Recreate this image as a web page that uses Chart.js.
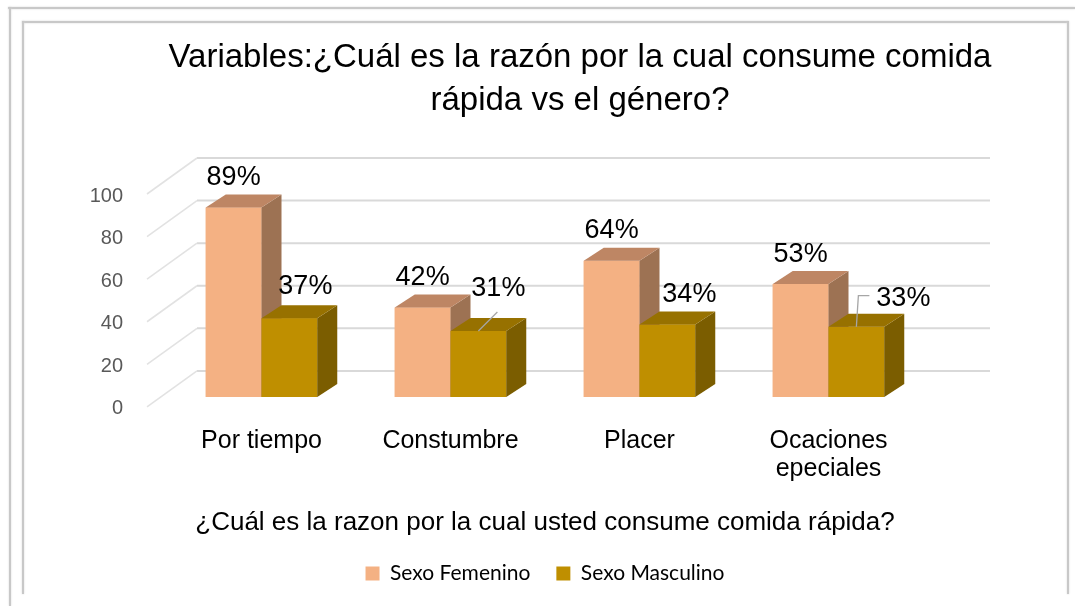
<!DOCTYPE html>
<html><head><meta charset="utf-8">
<script src="https://cdn.jsdelivr.net/npm/chart.js@4.4.0/dist/chart.umd.min.js"></script>
<style>
html,body{margin:0;padding:0;background:#fff;}
#wrap{position:relative;width:1075px;height:606px;overflow:hidden;background:#fff;}
.fr{position:absolute;background:#c8c8c8;box-shadow:0 0 2px #d6d6d6;}
canvas{position:absolute;left:0;top:0;}
</style></head><body>
<div id="wrap">
 <div class="fr" style="left:8px;top:7px;width:1067px;height:2px"></div>
 <div class="fr" style="left:9px;top:7px;width:2px;height:599px"></div>
 <div class="fr" style="left:22px;top:21px;width:1046px;height:2px"></div>
 <div class="fr" style="left:22px;top:21px;width:2px;height:573px"></div>
 <div class="fr" style="left:1067px;top:21px;width:2px;height:573px"></div>
 <canvas id="c" width="1075" height="606"></canvas>
</div>
<script>
const categories = ['Por tiempo', 'Constumbre', 'Placer', ['Ocaciones', 'epeciales']];
const femenino = [89, 42, 64, 53];
const masculino = [37, 31, 34, 33];
const yTicks = [0, 20, 40, 60, 80, 100];
const seriesNames = ['Sexo Femenino', 'Sexo Masculino'];
const titleLines = ['Variables:¿Cuál es la razón por la cual consume comida', 'rápida vs el género?'];
const xTitle = '¿Cuál es la razon por la cual usted consume comida rápida?';

const FONT = '"Liberation Sans", Arial, sans-serif';
const DX = 20, DY = -13;
const faceColors = [{top: '#BE8664', side: '#9D7253'}, {top: '#977100', side: '#7B5D00'}];
// label placement (style): [dx, dy] from bar top-center
const labelShift = [
  [[0, -30], [0, -30], [0, -30], [0, -30]],
  [[16, -32], [20, -42], [22, -30], [47, -28]]
];
const leaders = [
  [null, null, null, null],
  [null, [[0, 0], [19, -19]], null, [[0, 0], [2, -31], [13, -31]]]
];

const bar3d = {
  id: 'bar3d',
  beforeDatasetsDraw(chart) {
    const ctx = chart.ctx, ys = chart.scales.y, a = chart.chartArea;
    const bl = a.left + 30, br = a.right + 67;
    ctx.save();
    yTicks.forEach(v => {
      const py = ys.getPixelForValue(v);
      ctx.strokeStyle = '#d9d9d9'; ctx.lineWidth = 2;
      ctx.beginPath(); ctx.moveTo(bl, py - 26); ctx.lineTo(br, py - 26); ctx.stroke();
      ctx.strokeStyle = '#e2e2e2'; ctx.lineWidth = 1.6;
      ctx.beginPath(); ctx.moveTo(bl, py - 26); ctx.lineTo(bl - 50, py + 10); ctx.stroke();
    });
    ctx.restore();
  },
  afterDatasetsDraw(chart) {
    const ctx = chart.ctx;
    ctx.save();
    chart.data.datasets.forEach((ds, di) => {
      const fc = faceColors[di];
      chart.getDatasetMeta(di).data.forEach(bar => {
        bar.draw(ctx);
        const p = bar.getProps(['x', 'y', 'base', 'width'], true);
        const l = p.x - p.width / 2, r = p.x + p.width / 2;
        ctx.fillStyle = fc.side;
        ctx.beginPath(); ctx.moveTo(r, p.y); ctx.lineTo(r + DX, p.y + DY); ctx.lineTo(r + DX, p.base + DY); ctx.lineTo(r, p.base); ctx.closePath(); ctx.fill();
        ctx.fillStyle = fc.top;
        ctx.beginPath(); ctx.moveTo(l, p.y); ctx.lineTo(r, p.y); ctx.lineTo(r + DX, p.y + DY); ctx.lineTo(l + DX, p.y + DY); ctx.closePath(); ctx.fill();
      });
    });
    ctx.font = '27px ' + FONT;
    ctx.textAlign = 'center'; ctx.textBaseline = 'middle';
    chart.data.datasets.forEach((ds, di) => {
      chart.getDatasetMeta(di).data.forEach((bar, j) => {
        const p = bar.getProps(['x', 'y'], true);
        const ld = leaders[di][j];
        if (ld) {
          ctx.strokeStyle = '#a6a6a6'; ctx.lineWidth = 1.3;
          ctx.beginPath();
          ld.forEach((q, k) => k ? ctx.lineTo(p.x + q[0], p.y + q[1]) : ctx.moveTo(p.x + q[0], p.y + q[1]));
          ctx.stroke();
        }
        const s = labelShift[di][j];
        ctx.fillStyle = '#000';
        ctx.fillText(ds.data[j] + '%', p.x + s[0], p.y + s[1]);
      });
    });
    ctx.restore();
  }
};

new Chart(document.getElementById('c'), {
  type: 'bar',
  data: {
    labels: categories,
    datasets: [
      {label: seriesNames[0], data: femenino, backgroundColor: '#F4B183', borderWidth: 0},
      {label: seriesNames[1], data: masculino, backgroundColor: '#BF8F00', borderWidth: 0}
    ]
  },
  options: {
    responsive: false, animation: false, devicePixelRatio: 1,
    layout: {padding: {left: 85, right: 0, top: 0, bottom: 12}},
    datasets: {bar: {categoryPercentage: 0.59, barPercentage: 1}},
    plugins: {
      title: {display: true, text: titleLines, color: '#000',
        font: {family: FONT, size: 33, weight: 'normal', lineHeight: 1.303},
        padding: {top: 36, bottom: 62}},
      legend: {position: 'bottom', fullSize: false,
        labels: {boxWidth: 14, boxHeight: 14, padding: 26, color: '#000',
          font: {family: 'Lato, "Open Sans", sans-serif', size: 21}}},
      tooltip: {enabled: false}
    },
    scales: {
      x: {
        grid: {display: false, drawTicks: false}, border: {display: false},
        ticks: {padding: 31, color: '#000', font: {family: FONT, size: 25, lineHeight: 1.085}},
        title: {display: true, text: xTitle, color: '#000', font: {family: FONT, size: 26, lineHeight: 1.108}, padding: {top: -5, bottom: 0}}
      },
      y: {
        min: 0, max: 100,
        afterBuildTicks: s => { s.ticks = yTicks.map(v => ({value: v})); },
        grid: {display: false, drawTicks: false}, border: {display: false},
        ticks: {padding: 44, labelOffset: 12, color: '#595959', font: {family: FONT, size: 20}},
        afterFit: s => { s.width = 82; }
      },
      y2: {
        position: 'right', display: true,
        grid: {display: false, drawTicks: false}, border: {display: false},
        ticks: {display: false},
        afterFit: s => { s.width = 152; }
      }
    }
  },
  plugins: [bar3d]
});
</script>
</body></html>
